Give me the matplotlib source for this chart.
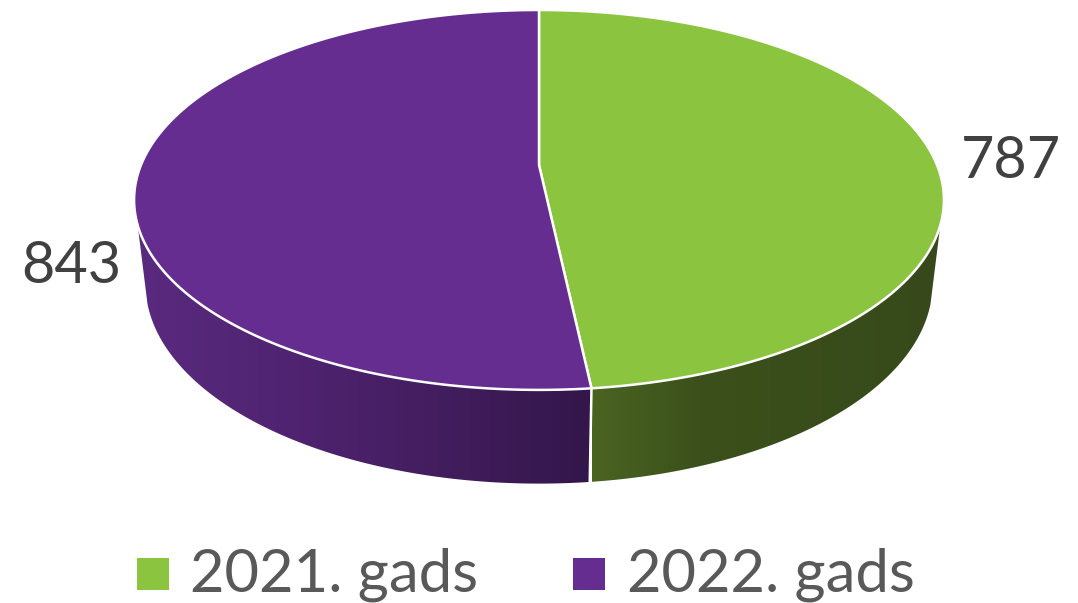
import numpy as np
import matplotlib
matplotlib.use('Agg')
from matplotlib import pyplot as plt
from matplotlib.colors import LinearSegmentedColormap
from matplotlib.patches import Polygon, Rectangle

labels = ['2021. gads', '2022. gads']
values = [787, 843]
colors = ['#8bc53f', '#652d8f']

# side shading, sampled along the screen x of the rim
shade_x = [[592, 700, 945], [130, 300, 450, 592]]
shade_c = [['#4a6421', '#3b501b', '#37491a'], ['#5a2a80', '#4f2370', '#421d5d', '#33164a']]


def project(t, level=0.0):
    # t runs clockwise from the back of the disc, level 0 top, 1 bottom
    u, v = np.sin(t), np.cos(t)
    w = 1 + 0.184 * v + 0.028 * level
    x = 539 + 398 * u / w
    y = (165 + 90 * level - 153.16 * v) / w
    return x, y


plt.rcParams['font.family'] = ['Lato', 'DejaVu Sans']
fig = plt.figure(figsize=(10.78, 6.03), dpi=100)
ax = fig.add_axes([0, 0, 1, 1])

edges = np.cumsum([0] + values) / sum(values) * 2 * np.pi

# sides first, only the front part of the rim shows
for i in range(len(values)):
    t_top = np.linspace(max(edges[i], np.radians(108)), min(edges[i + 1], np.radians(252)), 400)
    t_bot = np.linspace(max(edges[i], np.radians(106)), min(edges[i + 1], np.radians(254)), 400)
    xt, yt = project(t_top)
    xb, yb = project(t_bot, 1)
    outline = list(zip(xt, yt)) + list(zip(xb[::-1], yb[::-1]))
    side = Polygon(outline, closed=True, facecolor='none', edgecolor='none', transform=ax.transData)
    ax.add_patch(side)

    lo, hi = shade_x[i][0], shade_x[i][-1]
    stops = [(x - lo) / (hi - lo) for x in shade_x[i]]
    cmap = LinearSegmentedColormap.from_list('side', list(zip(stops, shade_c[i])))
    grad = np.linspace(0, 1, 256).reshape(1, -1)
    im = ax.imshow(grad, cmap=cmap, extent=[lo, hi, 500, 0], aspect='auto', interpolation='bilinear')
    im.set_clip_path(side)

# seam between the slices on the front
xs, ys = project(edges[1])
xe, ye = project(edges[1], 1)
ax.plot([xs, xe], [ys, ye], color='white', lw=1.8, solid_capstyle='butt')

# top of the disc
cx, cy = 539, 165
for i in range(len(values)):
    t = np.linspace(edges[i], edges[i + 1], 300)
    xt, yt = project(t)
    pts = [(cx, cy)] + list(zip(xt, yt))
    ax.add_patch(Polygon(pts, closed=True, facecolor=colors[i], edgecolor='white', lw=1.8, joinstyle='round'))

# data labels
ax.text(961, 178, str(values[0]), fontsize=41.5, color='#404040', ha='left', va='baseline')
ax.text(21, 283, str(values[1]), fontsize=41.5, color='#404040', ha='left', va='baseline')

# legend
for sx, tx, lab, col in zip([137, 573], [190, 627], labels, colors):
    ax.add_patch(Rectangle((sx, 558), 32, 32, facecolor=col, edgecolor='none'))
    ax.text(tx, 592, lab, fontsize=43, color='#595959', ha='left', va='baseline')

ax.set_xlim(0, 1078)
ax.set_ylim(603, 0)
ax.axis('off')

plt.savefig('out.png', dpi=100)
